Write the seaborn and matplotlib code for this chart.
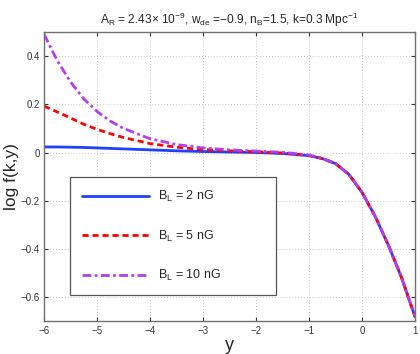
import matplotlib
matplotlib.use("Agg")
import matplotlib.pyplot as plt
import seaborn as sns
import pandas as pd

# ---- data ----
y_vals = [-6, -5.75, -5.5, -5.25, -5, -4.75, -4.5, -4, -3.5, -3, -2.5, -2, -1.5,
          -1, -0.75, -0.5, -0.25, 0, 0.25, 0.5, 0.75, 1]
f_B2 = [0.023, 0.023, 0.022, 0.021, 0.019, 0.017, 0.015, 0.011, 0.007, 0.004, 0.002,
        0.000, -0.004, -0.013, -0.025, -0.046, -0.090, -0.165, -0.265, -0.385, -0.520, -0.680]
f_B5 = [0.192, 0.168, 0.143, 0.117, 0.096, 0.078, 0.062, 0.037, 0.022, 0.012, 0.007,
        0.003, -0.002, -0.012, -0.025, -0.046, -0.090, -0.165, -0.265, -0.385, -0.520, -0.680]
f_B10 = [0.490, 0.380, 0.292, 0.222, 0.170, 0.130, 0.100, 0.057, 0.033, 0.019, 0.011,
         0.006, 0.001, -0.010, -0.024, -0.045, -0.090, -0.165, -0.265, -0.385, -0.520, -0.680]
labels = [r"$B_L$ = 2 nG", r"$B_L$ = 5 nG", r"$B_L$ = 10 nG"]
x_ticks = [-6, -5, -4, -3, -2, -1, 0, 1]
x_ticklabels = ["\u22126", "\u22125", "\u22124", "\u22123", "\u22122", "\u22121", "0", "1"]
y_ticks = [-0.6, -0.4, -0.2, 0, 0.2, 0.4]
y_ticklabels = ["\u22120.6", "\u22120.4", "\u22120.2", "0", "0.2", "0.4"]
title = (r"$A_R$ = 2.43$\times$ 10$^{-9}$, $w_{de}$ =" + "\u2212" +
         r"0.9, $n_B$=1.5, k=0.3 Mpc$^{-1}$")

sns.set_style("ticks")
plt.rcParams["font.family"] = ["Liberation Sans", "DejaVu Sans"]
plt.rcParams["mathtext.default"] = "regular"
plt.rcParams["mathtext.fontset"] = "custom"
plt.rcParams["mathtext.rm"] = "Liberation Sans"

fig = plt.figure(figsize=(4.2, 3.54), dpi=100)
ax = fig.add_axes([0.105, 0.092, 0.883, 0.818])

colors = ["#2040ff", "#ff0000", "#b040f0"]
styles = ["-", (0, (2.2, 1.4)), (0, (3.2, 1.2, 1.0, 1.2))]
for vals, lab, c, ls in zip([f_B2, f_B5, f_B10], labels, colors, styles):
    df = pd.DataFrame({"y": y_vals, "f": vals})
    sns.lineplot(data=df, x="y", y="f", ax=ax, color=c, linewidth=2.0,
                 linestyle=ls, label=lab, sort=False, estimator=None)

ax.set_xlim(-6, 1)
ax.set_ylim(-0.7, 0.5)
ax.set_xticks(x_ticks)
ax.set_xticklabels(x_ticklabels)
ax.set_yticks(y_ticks)
ax.set_yticklabels(y_ticklabels)
ax.tick_params(direction="in", length=3, labelsize=7, colors="#333333",
               top=True, right=True, pad=3)
ax.grid(True, linestyle=(0, (1, 2.5)), color="#b0b0b0", linewidth=0.6)
for s in ax.spines.values():
    s.set_color("#707070")
    s.set_linewidth(1.0)

ax.set_xlabel("y", fontsize=13, labelpad=1)
ax.set_ylabel("log f(k,y)", fontsize=12.5)
ax.yaxis.set_label_coords(-0.068, 0.5)
ax.set_title(title, fontsize=8.6, pad=6)

leg = ax.legend(loc="lower left", bbox_to_anchor=(0.07, 0.0915, 0.555, 0.387),
                mode="expand", borderaxespad=0, fontsize=9, handlelength=5.4,
                handletextpad=0.65, labelspacing=1.95, borderpad=0.95,
                fancybox=False, frameon=True, framealpha=1.0)
leg.get_frame().set_edgecolor("#555555")
leg.get_frame().set_linewidth(0.9)

fig.savefig("out.png", dpi=100)
